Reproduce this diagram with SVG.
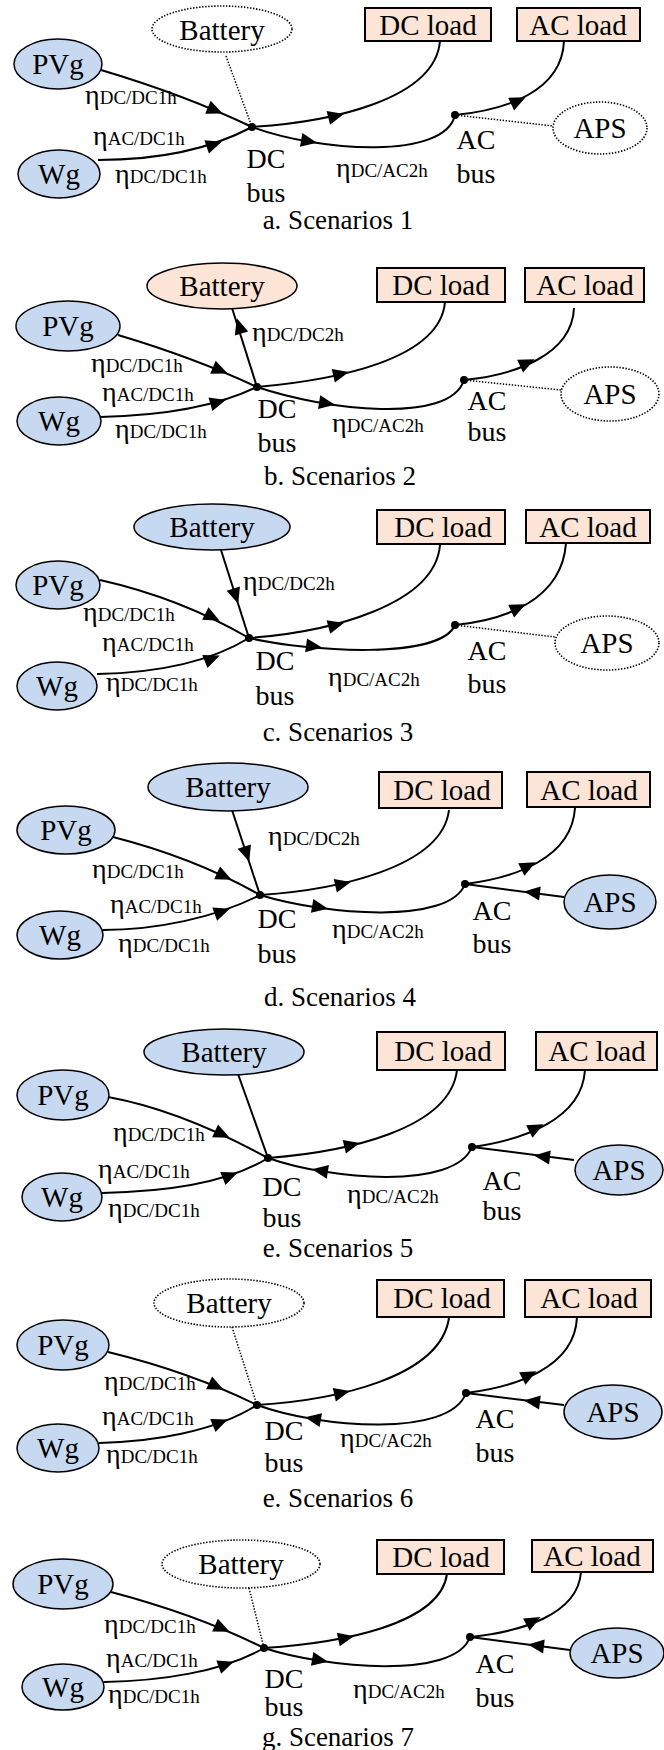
<svg xmlns="http://www.w3.org/2000/svg" xmlns:xlink="http://www.w3.org/1999/xlink" width="664" height="1750" viewBox="0 0 664 1750">
<style>
text{font-family:"Liberation Serif","Times New Roman",serif;font-size:28px;fill:#000}
.n{font-size:29px;text-anchor:middle}
.m{text-anchor:middle}
.cap{font-size:27px;text-anchor:middle}
.sub{font-size:19px}
.blue{fill:#c6d9f0;stroke:#000;stroke-width:1.5}
.peach{fill:#fce4d6;stroke:#000;stroke-width:1.5}
.ghost{fill:#fff;stroke:#000;stroke-width:1.6;stroke-dasharray:1.4 1.6}
.box{fill:#fce4d6;stroke:#000;stroke-width:2}
.edge{fill:none;stroke:#000;stroke-width:2}
.dots{fill:none;stroke:#000;stroke-width:1.5;stroke-dasharray:1.4 1.6}
.bus{fill:#000}
</style>
<defs>
<path id="ah" d="M4,0 L-12,-7 L-12,7 Z" fill="#000"/>
</defs>
<rect width="664" height="1750" fill="#fff"/>

<!-- ===== a. Scenarios 1 ===== -->
<g id="a-connectors">
<path class="edge" d="M101,70 Q185,95 252,127"/>
<path class="edge" d="M98,160 C150,160 205,152 252,127"/>
<path class="dots" d="M226,56 L252,127"/>
<path class="edge" d="M252,127 C330,122 435,100 440,41"/>
<path class="edge" d="M252,127 C320,152 445,160 455,115"/>
<path class="edge" d="M455,115 C505,110 562,92 564,41"/>
<path class="dots" d="M455,115 L553,126"/>
<use xlink:href="#ah" transform="translate(219,112) rotate(23)"/>
<use xlink:href="#ah" transform="translate(218,143) rotate(-19)"/>
<use xlink:href="#ah" transform="translate(340,115) rotate(-14)"/>
<use xlink:href="#ah" transform="translate(313,142) rotate(10)"/>
<use xlink:href="#ah" transform="translate(522,99) rotate(-25)"/>
</g>
<g id="a-pvg"><ellipse class="blue" cx="58" cy="64" rx="44" ry="25"/><text class="n" x="58" y="74">PVg</text></g>
<g id="a-wg"><ellipse class="blue" cx="59" cy="174" rx="41" ry="24"/><text class="n" x="59" y="184">Wg</text></g>
<g id="a-battery"><ellipse class="ghost" cx="222" cy="29" rx="70" ry="23"/><text class="n" x="222" y="40">Battery</text></g>
<g id="a-dcload"><rect class="box" x="365" y="8" width="126" height="33"/><text class="n" x="428" y="35">DC load</text></g>
<g id="a-acload"><rect class="box" x="517" y="8" width="123" height="33"/><text class="n" x="578" y="35">AC load</text></g>
<g id="a-aps"><ellipse class="ghost" cx="600" cy="128" rx="47" ry="26"/><text class="n" x="600" y="138">APS</text></g>
<g id="a-dcbus"><circle class="bus" cx="252" cy="127" r="4"/><text class="m" x="266" y="168">DC</text><text class="m" x="266" y="202">bus</text></g>
<g id="a-acbus"><circle class="bus" cx="455" cy="115" r="4"/><text class="m" x="476" y="149">AC</text><text class="m" x="476" y="183">bus</text></g>
<g id="a-labels">
<text x="85" y="104">η<tspan class="sub">DC/DC1h</tspan></text>
<text x="93" y="145">η<tspan class="sub">AC/DC1h</tspan></text>
<text x="115" y="183">η<tspan class="sub">DC/DC1h</tspan></text>
<text x="336" y="177">η<tspan class="sub">DC/AC2h</tspan></text>
<text class="cap" x="338" y="229">a. Scenarios 1</text>
</g>

<!-- ===== b. Scenarios 2 ===== -->
<g id="b-connectors">
<path class="edge" d="M118,335 Q195,358 257,387"/>
<path class="edge" d="M100,417 C150,416 210,410 257,387"/>
<path class="edge" d="M257,387 L232,308"/>
<path class="edge" d="M257,387 C335,380 440,360 445,302"/>
<path class="edge" d="M257,387 C325,410 450,425 464,380"/>
<path class="edge" d="M464,380 C515,375 572,355 574,308"/>
<path class="dots" d="M464,380 L561,390"/>
<use xlink:href="#ah" transform="translate(224,372) rotate(23)"/>
<use xlink:href="#ah" transform="translate(222,401) rotate(-16)"/>
<use xlink:href="#ah" transform="translate(238,322) rotate(-107)"/>
<use xlink:href="#ah" transform="translate(345,373) rotate(-13)"/>
<use xlink:href="#ah" transform="translate(331,404) rotate(9)"/>
<use xlink:href="#ah" transform="translate(531,361) rotate(-25)"/>
</g>
<g id="b-pvg"><ellipse class="blue" cx="68" cy="326" rx="52" ry="25"/><text class="n" x="68" y="336">PVg</text></g>
<g id="b-wg"><ellipse class="blue" cx="59" cy="421" rx="42" ry="24"/><text class="n" x="59" y="431">Wg</text></g>
<g id="b-battery"><ellipse class="peach" cx="222" cy="286" rx="75" ry="23"/><text class="n" x="222" y="296">Battery</text></g>
<g id="b-dcload"><rect class="box" x="377" y="268" width="128" height="34"/><text class="n" x="441" y="295">DC load</text></g>
<g id="b-acload"><rect class="box" x="525" y="268" width="119" height="34"/><text class="n" x="585" y="295">AC load</text></g>
<g id="b-aps"><ellipse class="ghost" cx="610" cy="394" rx="49" ry="27"/><text class="n" x="610" y="404">APS</text></g>
<g id="b-dcbus"><circle class="bus" cx="257" cy="387" r="4"/><text class="m" x="277" y="418">DC</text><text class="m" x="277" y="452">bus</text></g>
<g id="b-acbus"><circle class="bus" cx="464" cy="380" r="4"/><text class="m" x="487" y="410">AC</text><text class="m" x="487" y="441">bus</text></g>
<g id="b-labels">
<text x="252" y="341">η<tspan class="sub">DC/DC2h</tspan></text>
<text x="91" y="372">η<tspan class="sub">DC/DC1h</tspan></text>
<text x="102" y="401">η<tspan class="sub">AC/DC1h</tspan></text>
<text x="115" y="438">η<tspan class="sub">DC/DC1h</tspan></text>
<text x="332" y="432">η<tspan class="sub">DC/AC2h</tspan></text>
<text class="cap" x="340" y="485">b. Scenarios 2</text>
</g>

<!-- ===== c. Scenarios 3 ===== -->
<g id="c-connectors">
<path class="edge" d="M100,580 Q180,598 249,638"/>
<path class="edge" d="M97,674 C150,673 205,665 249,638"/>
<path class="edge" d="M221,550 L249,638"/>
<path class="edge" d="M249,638 C330,632 435,605 440,545"/>
<path class="edge" d="M249,638 C310,652 440,660 455,625"/>
<path class="edge" d="M455,625 C505,620 562,600 566,543"/>
<path class="dots" d="M455,625 L555,637"/>
<use xlink:href="#ah" transform="translate(216,619) rotate(27)"/>
<use xlink:href="#ah" transform="translate(216,657) rotate(-22)"/>
<use xlink:href="#ah" transform="translate(237,600) rotate(72)"/>
<use xlink:href="#ah" transform="translate(340,624) rotate(-15)"/>
<use xlink:href="#ah" transform="translate(318,647) rotate(8)"/>
<use xlink:href="#ah" transform="translate(522,606) rotate(-25)"/>
</g>
<g id="c-pvg"><ellipse class="blue" cx="58" cy="585" rx="42" ry="24"/><text class="n" x="58" y="595">PVg</text></g>
<g id="c-wg"><ellipse class="blue" cx="57" cy="686" rx="40" ry="24"/><text class="n" x="57" y="696">Wg</text></g>
<g id="c-battery"><ellipse class="blue" cx="212" cy="527" rx="78" ry="23"/><text class="n" x="212" y="537">Battery</text></g>
<g id="c-dcload"><rect class="box" x="377" y="510" width="128" height="34"/><text class="n" x="443" y="537">DC load</text></g>
<g id="c-acload"><rect class="box" x="526" y="510" width="124" height="33"/><text class="n" x="588" y="537">AC load</text></g>
<g id="c-aps"><ellipse class="ghost" cx="607" cy="643" rx="52" ry="27"/><text class="n" x="607" y="653">APS</text></g>
<g id="c-dcbus"><circle class="bus" cx="249" cy="638" r="4"/><text class="m" x="275" y="670">DC</text><text class="m" x="275" y="705">bus</text></g>
<g id="c-acbus"><circle class="bus" cx="455" cy="625" r="4"/><text class="m" x="487" y="660">AC</text><text class="m" x="487" y="693">bus</text></g>
<g id="c-labels">
<text x="243" y="590">η<tspan class="sub">DC/DC2h</tspan></text>
<text x="83" y="621">η<tspan class="sub">DC/DC1h</tspan></text>
<text x="102" y="651">η<tspan class="sub">AC/DC1h</tspan></text>
<text x="106" y="691">η<tspan class="sub">DC/DC1h</tspan></text>
<text x="328" y="686">η<tspan class="sub">DC/AC2h</tspan></text>
<text class="cap" x="338" y="741">c. Scenarios 3</text>
</g>

<!-- ===== d. Scenarios 4 ===== -->
<g id="d-connectors">
<path class="edge" d="M113,837 Q195,858 260,895"/>
<path class="edge" d="M103,930 C155,930 215,918 260,895"/>
<path class="edge" d="M232,810 L260,895"/>
<path class="edge" d="M260,895 C335,890 442,868 449,810"/>
<path class="edge" d="M260,895 C325,915 450,925 465,884"/>
<path class="edge" d="M465,884 C515,878 572,858 575,808"/>
<path class="edge" d="M564,897 L465,884"/>
<use xlink:href="#ah" transform="translate(228,878) rotate(25)"/>
<use xlink:href="#ah" transform="translate(226,910) rotate(-20)"/>
<use xlink:href="#ah" transform="translate(248,858) rotate(72)"/>
<use xlink:href="#ah" transform="translate(347,883) rotate(-13)"/>
<use xlink:href="#ah" transform="translate(324,908) rotate(10)"/>
<use xlink:href="#ah" transform="translate(532,864) rotate(-27)"/>
<use xlink:href="#ah" transform="translate(528,892) rotate(187)"/>
</g>
<g id="d-pvg"><ellipse class="blue" cx="66" cy="830" rx="49" ry="24"/><text class="n" x="66" y="840">PVg</text></g>
<g id="d-wg"><ellipse class="blue" cx="60" cy="935" rx="43" ry="24"/><text class="n" x="60" y="945">Wg</text></g>
<g id="d-battery"><ellipse class="blue" cx="228" cy="787" rx="80" ry="24"/><text class="n" x="228" y="797">Battery</text></g>
<g id="d-dcload"><rect class="box" x="379" y="772" width="123" height="36"/><text class="n" x="442" y="800">DC load</text></g>
<g id="d-acload"><rect class="box" x="527" y="772" width="123" height="35"/><text class="n" x="589" y="800">AC load</text></g>
<g id="d-aps"><ellipse class="blue" cx="610" cy="902" rx="46" ry="27"/><text class="n" x="610" y="912">APS</text></g>
<g id="d-dcbus"><circle class="bus" cx="260" cy="895" r="4"/><text class="m" x="277" y="928">DC</text><text class="m" x="277" y="963">bus</text></g>
<g id="d-acbus"><circle class="bus" cx="465" cy="884" r="4"/><text class="m" x="492" y="920">AC</text><text class="m" x="492" y="953">bus</text></g>
<g id="d-labels">
<text x="268" y="845">η<tspan class="sub">DC/DC2h</tspan></text>
<text x="92" y="878">η<tspan class="sub">DC/DC1h</tspan></text>
<text x="110" y="913">η<tspan class="sub">AC/DC1h</tspan></text>
<text x="118" y="952">η<tspan class="sub">DC/DC1h</tspan></text>
<text x="332" y="938">η<tspan class="sub">DC/AC2h</tspan></text>
<text class="cap" x="340" y="1006">d. Scenarios 4</text>
</g>

<!-- ===== e. Scenarios 5 ===== -->
<g id="e-connectors">
<path class="edge" d="M108,1097 Q180,1110 268,1158"/>
<path class="edge" d="M102,1193 C160,1192 225,1185 268,1158"/>
<path class="edge" d="M238,1074 L268,1158"/>
<path class="edge" d="M268,1158 C345,1152 450,1130 457,1070"/>
<path class="edge" d="M268,1158 C330,1180 455,1190 472,1147"/>
<path class="edge" d="M472,1147 C522,1140 582,1120 585,1070"/>
<path class="edge" d="M574,1160 L472,1147"/>
<use xlink:href="#ah" transform="translate(226,1136) rotate(25)"/>
<use xlink:href="#ah" transform="translate(234,1174) rotate(-22)"/>
<use xlink:href="#ah" transform="translate(356,1144) rotate(-13)"/>
<use xlink:href="#ah" transform="translate(316,1170) rotate(189)"/>
<use xlink:href="#ah" transform="translate(540,1126) rotate(-27)"/>
<use xlink:href="#ah" transform="translate(538,1156) rotate(187)"/>
</g>
<g id="e-pvg"><ellipse class="blue" cx="63" cy="1095" rx="46" ry="25"/><text class="n" x="63" y="1105">PVg</text></g>
<g id="e-wg"><ellipse class="blue" cx="62" cy="1197" rx="40" ry="24"/><text class="n" x="62" y="1207">Wg</text></g>
<g id="e-battery"><ellipse class="blue" cx="224" cy="1052" rx="80" ry="23"/><text class="n" x="224" y="1062">Battery</text></g>
<g id="e-dcload"><rect class="box" x="377" y="1032" width="128" height="38"/><text class="n" x="443" y="1061">DC load</text></g>
<g id="e-acload"><rect class="box" x="536" y="1032" width="121" height="38"/><text class="n" x="597" y="1061">AC load</text></g>
<g id="e-aps"><ellipse class="blue" cx="619" cy="1170" rx="44" ry="25"/><text class="n" x="619" y="1180">APS</text></g>
<g id="e-dcbus"><circle class="bus" cx="268" cy="1158" r="4"/><text class="m" x="282" y="1196">DC</text><text class="m" x="282" y="1227">bus</text></g>
<g id="e-acbus"><circle class="bus" cx="472" cy="1147" r="4"/><text class="m" x="502" y="1190">AC</text><text class="m" x="502" y="1220">bus</text></g>
<g id="e-labels">
<text x="113" y="1141">η<tspan class="sub">DC/DC1h</tspan></text>
<text x="98" y="1178">η<tspan class="sub">AC/DC1h</tspan></text>
<text x="108" y="1217">η<tspan class="sub">DC/DC1h</tspan></text>
<text x="347" y="1203">η<tspan class="sub">DC/AC2h</tspan></text>
<text class="cap" x="338" y="1257">e. Scenarios 5</text>
</g>

<!-- ===== e. Scenarios 6 ===== -->
<g id="f-connectors">
<path class="edge" d="M108,1352 Q190,1372 257,1405"/>
<path class="edge" d="M99,1443 C150,1442 215,1432 257,1405"/>
<path class="dots" d="M232,1327 L257,1405"/>
<path class="edge" d="M257,1405 C335,1400 440,1378 449,1318"/>
<path class="edge" d="M257,1405 C320,1428 450,1438 466,1393"/>
<path class="edge" d="M466,1393 C515,1387 575,1368 577,1317"/>
<path class="edge" d="M564,1405 L466,1393"/>
<use xlink:href="#ah" transform="translate(220,1388) rotate(25)"/>
<use xlink:href="#ah" transform="translate(224,1421) rotate(-22)"/>
<use xlink:href="#ah" transform="translate(346,1392) rotate(-13)"/>
<use xlink:href="#ah" transform="translate(309,1418) rotate(190)"/>
<use xlink:href="#ah" transform="translate(533,1373) rotate(-27)"/>
<use xlink:href="#ah" transform="translate(528,1401) rotate(187)"/>
</g>
<g id="f-pvg"><ellipse class="blue" cx="63" cy="1345" rx="46" ry="25"/><text class="n" x="63" y="1355">PVg</text></g>
<g id="f-wg"><ellipse class="blue" cx="58" cy="1448" rx="41" ry="24"/><text class="n" x="58" y="1458">Wg</text></g>
<g id="f-battery"><ellipse class="ghost" cx="229" cy="1303" rx="75" ry="24"/><text class="n" x="229" y="1313">Battery</text></g>
<g id="f-dcload"><rect class="box" x="377" y="1280" width="127" height="37"/><text class="n" x="442" y="1308">DC load</text></g>
<g id="f-acload"><rect class="box" x="525" y="1280" width="126" height="37"/><text class="n" x="589" y="1308">AC load</text></g>
<g id="f-aps"><ellipse class="blue" cx="613" cy="1412" rx="49" ry="27"/><text class="n" x="613" y="1422">APS</text></g>
<g id="f-dcbus"><circle class="bus" cx="257" cy="1405" r="4"/><text class="m" x="284" y="1440">DC</text><text class="m" x="284" y="1472">bus</text></g>
<g id="f-acbus"><circle class="bus" cx="466" cy="1393" r="4"/><text class="m" x="495" y="1428">AC</text><text class="m" x="495" y="1462">bus</text></g>
<g id="f-labels">
<text x="104" y="1390">η<tspan class="sub">DC/DC1h</tspan></text>
<text x="102" y="1425">η<tspan class="sub">AC/DC1h</tspan></text>
<text x="106" y="1463">η<tspan class="sub">DC/DC1h</tspan></text>
<text x="340" y="1447">η<tspan class="sub">DC/AC2h</tspan></text>
<text class="cap" x="338" y="1507">e. Scenarios 6</text>
</g>

<!-- ===== g. Scenarios 7 ===== -->
<g id="g-connectors">
<path class="edge" d="M111,1592 Q198,1615 264,1648"/>
<path class="edge" d="M104,1682 C160,1681 222,1672 264,1648"/>
<path class="dots" d="M249,1588 L264,1648"/>
<path class="edge" d="M264,1648 C340,1643 440,1625 447,1574"/>
<path class="edge" d="M264,1648 C325,1668 455,1680 470,1637"/>
<path class="edge" d="M470,1637 C520,1632 578,1615 581,1572"/>
<path class="edge" d="M570,1650 L470,1637"/>
<use xlink:href="#ah" transform="translate(226,1630) rotate(24)"/>
<use xlink:href="#ah" transform="translate(230,1663) rotate(-20)"/>
<use xlink:href="#ah" transform="translate(350,1637) rotate(-12)"/>
<use xlink:href="#ah" transform="translate(324,1661) rotate(10)"/>
<use xlink:href="#ah" transform="translate(537,1619) rotate(-28)"/>
<use xlink:href="#ah" transform="translate(532,1645) rotate(187)"/>
</g>
<g id="g-pvg"><ellipse class="blue" cx="63" cy="1584" rx="50" ry="25"/><text class="n" x="63" y="1594">PVg</text></g>
<g id="g-wg"><ellipse class="blue" cx="63" cy="1687" rx="41" ry="23"/><text class="n" x="63" y="1697">Wg</text></g>
<g id="g-battery"><ellipse class="ghost" cx="241" cy="1564" rx="79" ry="24"/><text class="n" x="241" y="1574">Battery</text></g>
<g id="g-dcload"><rect class="box" x="377" y="1540" width="127" height="34"/><text class="n" x="441" y="1567">DC load</text></g>
<g id="g-acload"><rect class="box" x="532" y="1540" width="121" height="32"/><text class="n" x="592" y="1566">AC load</text></g>
<g id="g-aps"><ellipse class="blue" cx="617" cy="1653" rx="47" ry="25"/><text class="n" x="617" y="1663">APS</text></g>
<g id="g-dcbus"><circle class="bus" cx="264" cy="1648" r="4"/><text class="m" x="284" y="1688">DC</text><text class="m" x="284" y="1716">bus</text></g>
<g id="g-acbus"><circle class="bus" cx="470" cy="1637" r="4"/><text class="m" x="495" y="1673">AC</text><text class="m" x="495" y="1707">bus</text></g>
<g id="g-labels">
<text x="104" y="1633">η<tspan class="sub">DC/DC1h</tspan></text>
<text x="106" y="1667">η<tspan class="sub">AC/DC1h</tspan></text>
<text x="108" y="1703">η<tspan class="sub">DC/DC1h</tspan></text>
<text x="353" y="1698">η<tspan class="sub">DC/AC2h</tspan></text>
<text class="cap" x="338" y="1746">g. Scenarios 7</text>
</g>
</svg>
